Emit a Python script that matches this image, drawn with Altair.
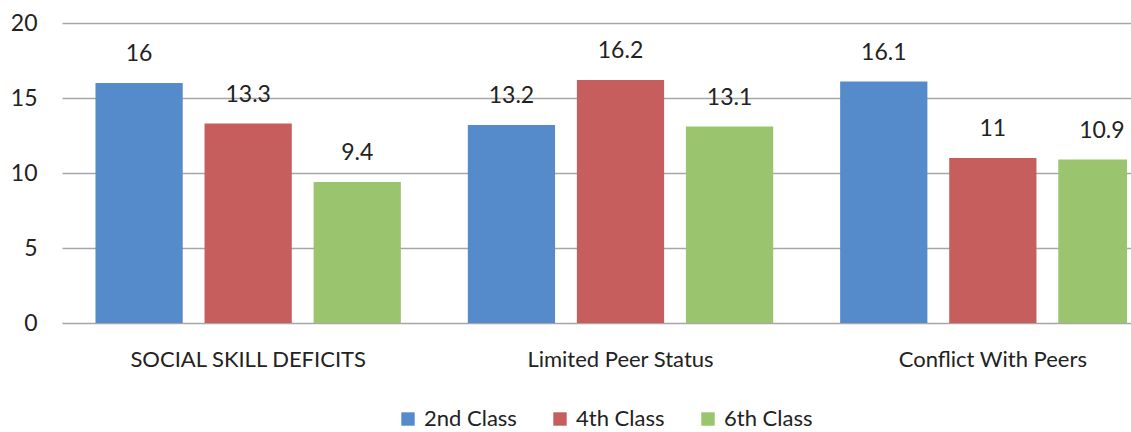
import altair as alt
import pandas as pd

categories = ["SOCIAL SKILL DEFICITS", "Limited Peer Status", "Conflict With Peers"]
series = ["2nd Class", "4th Class", "6th Class"]
values_2nd = [16, 13.2, 16.1]
values_4th = [13.3, 16.2, 11]
values_6th = [9.4, 13.1, 10.9]
colors = ["#558ACB", "#C65E5E", "#9BC46F"]
y_ticks = [0, 5, 10, 15, 20]

rows = []
for s, vals in zip(series, [values_2nd, values_4th, values_6th]):
    for c, v in zip(categories, vals):
        rows.append({"category": c, "series": s, "value": v, "label": f"{v:g}"})
df = pd.DataFrame(rows)

FONT = "Lato"
TEXT = "#222222"
PLOT_W = 1065
FULL_W = 1117

x_enc = alt.X(
    "category:N",
    sort=categories,
    scale=alt.Scale(range=[0, FULL_W], paddingInner=0, paddingOuter=0),
    axis=alt.Axis(
        title=None, labelAngle=0, labelFont=FONT, labelFontSize=22,
        labelColor=TEXT, labelPadding=26, ticks=False, domain=False,
        labelLimit=400, grid=False,
    ),
)
xo_enc = alt.XOffset(
    "series:N", sort=series,
    scale=alt.Scale(paddingInner=0.2, paddingOuter=0.307),
)
y_enc = alt.Y(
    "value:Q",
    scale=alt.Scale(domain=[0, 20], nice=False),
    axis=alt.Axis(
        title=None, values=y_ticks, labelFont=FONT, labelFontSize=23,
        labelColor=TEXT, labelPadding=25, ticks=False, domain=False,
        gridColor="#A6A6A6", gridWidth=1.5,
    ),
)

bars = alt.Chart(df).mark_bar(clip=True).encode(
    x=x_enc,
    xOffset=xo_enc,
    y=y_enc,
    color=alt.Color(
        "series:N", sort=series,
        scale=alt.Scale(domain=series, range=colors),
        legend=alt.Legend(
            title=None, orient="none", direction="horizontal",
            legendX=335, legendY=385,
            symbolType="square", symbolSize=180, symbolStrokeWidth=0,
            labelFont=FONT, labelFontSize=22, labelColor=TEXT,
            labelOffset=5, columnPadding=32,
        ),
    ),
)

labels = alt.Chart(df).mark_text(
    font=FONT, fontSize=23, color=TEXT, dy=-17, baseline="bottom"
).encode(
    x=alt.X("category:N", sort=categories),
    xOffset=alt.XOffset("series:N", sort=series),
    y="value:Q",
    text="label:N",
)

chart = alt.layer(bars, labels).properties(
    width=PLOT_W, height=300,
    background="white",
    autosize=alt.AutoSizeParams(type="none"),
    padding={"left": 62, "top": 23, "right": 4, "bottom": 109},
).configure_view(stroke=None)

chart.save("out.html", embed_options={"renderer": "svg", "actions": False})
